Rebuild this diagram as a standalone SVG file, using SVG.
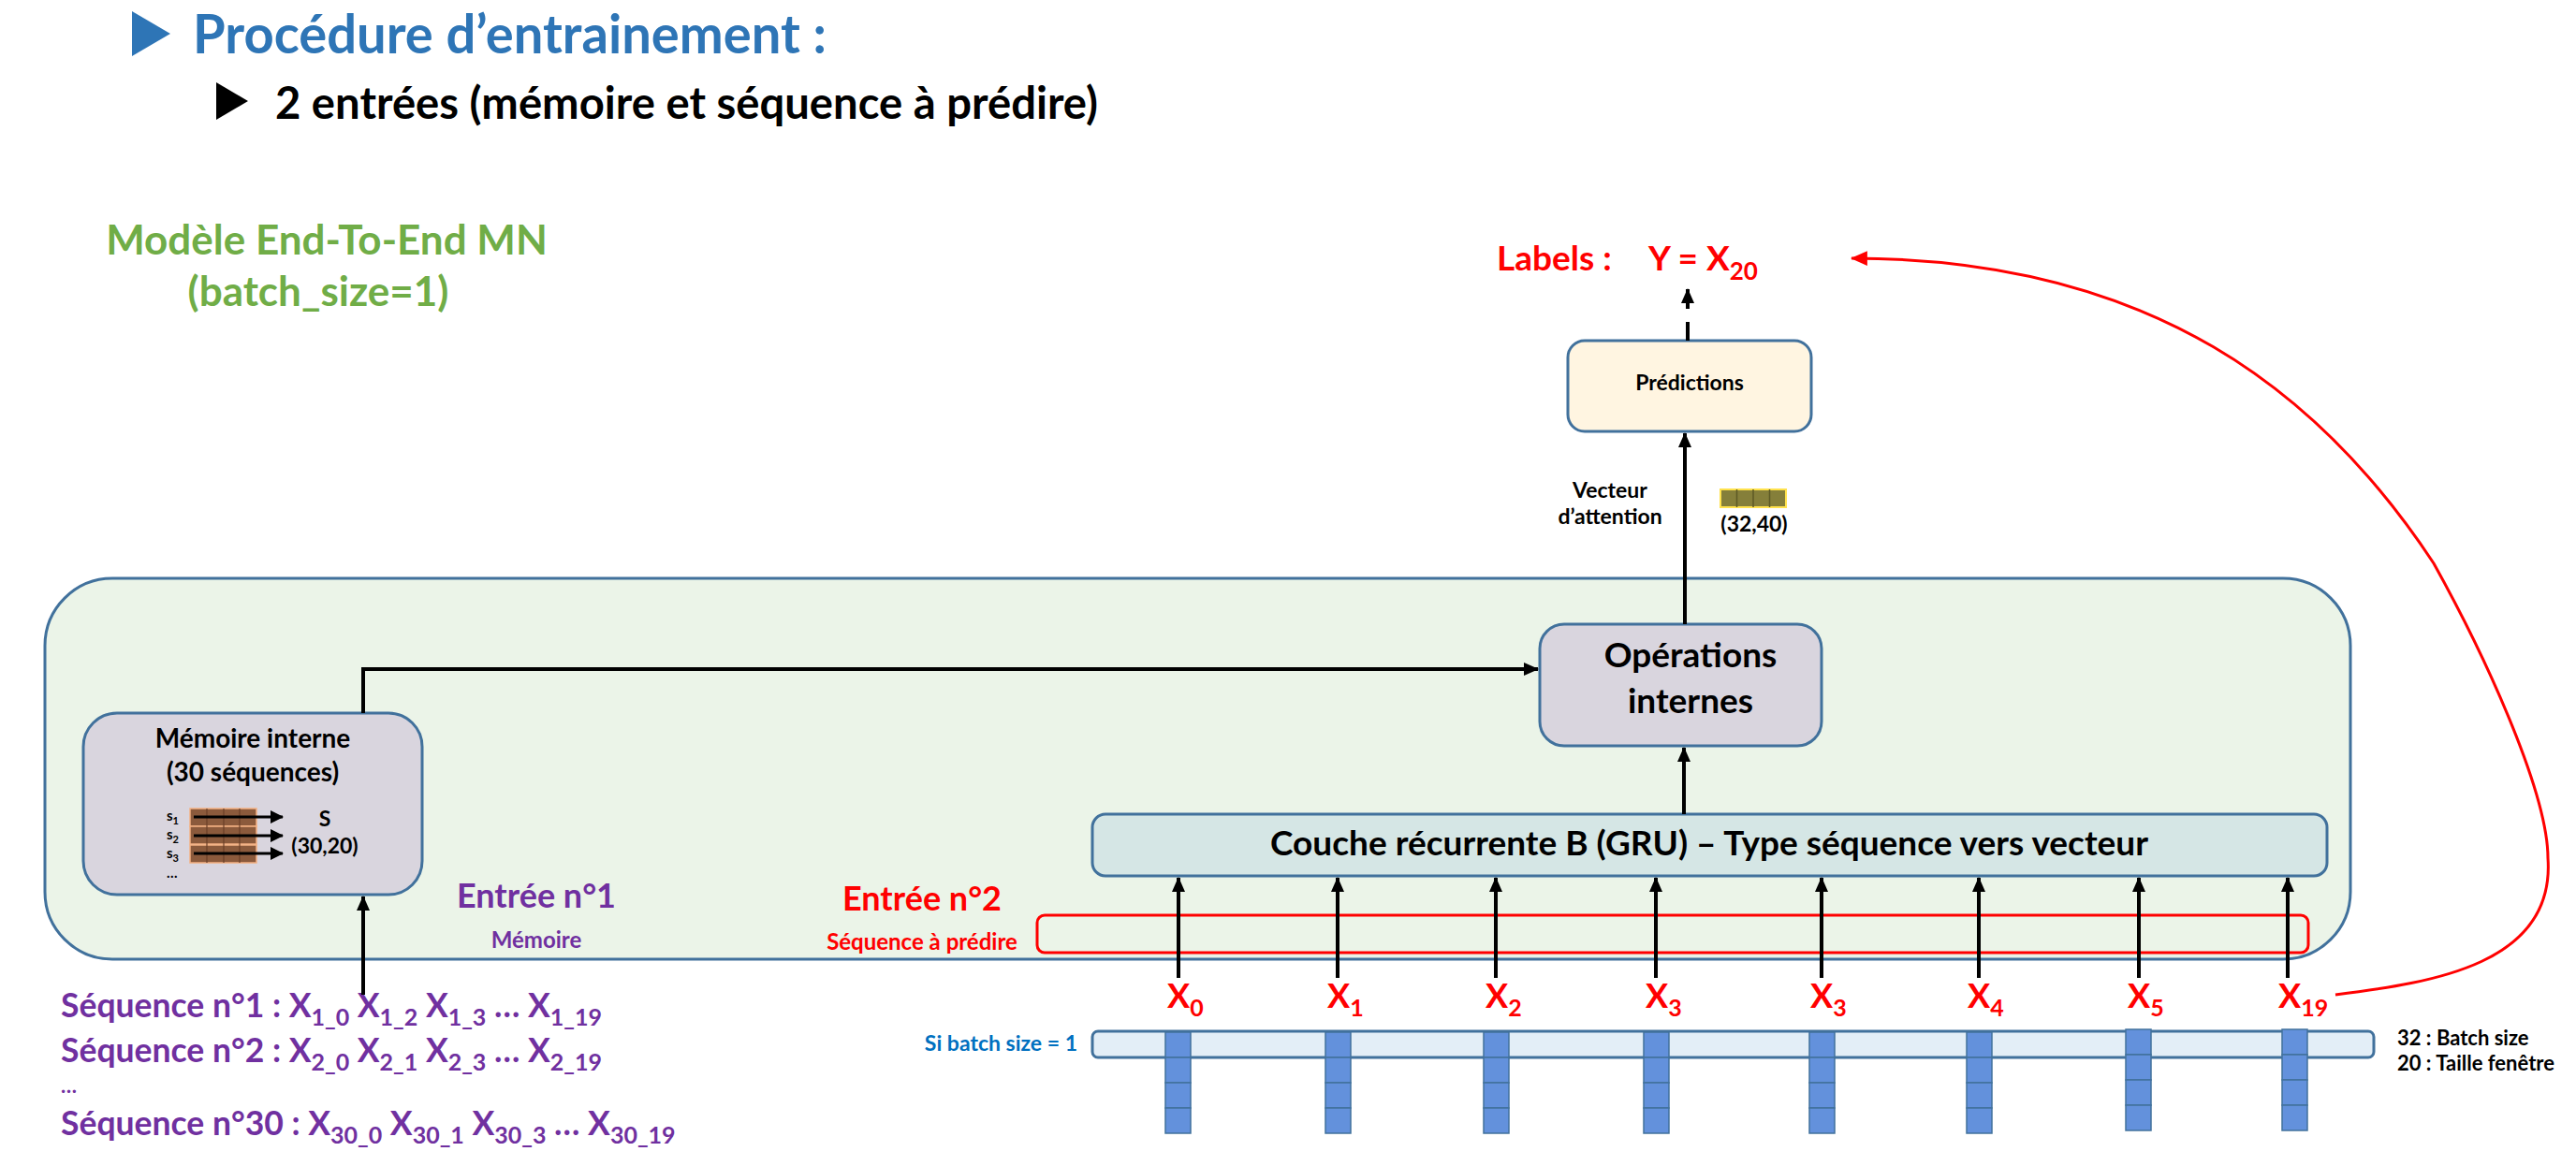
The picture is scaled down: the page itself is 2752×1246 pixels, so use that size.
<svg xmlns="http://www.w3.org/2000/svg" width="2752" height="1246" viewBox="0 0 2752 1246">
<style>
text{font-family:Lato,"Liberation Sans",sans-serif;font-weight:bold}
.node{stroke:#41719C;stroke-width:3}
.conn{stroke:#000;stroke-width:4;fill:none}
.purple{fill:#7030A0}
.red{fill:#FF0000}
.blk{fill:#000}
.cell{fill:#6391DC;stroke:#41719C;stroke-width:1.5}
.brown{fill:#8B5A3C;stroke:#F4B183;stroke-width:1.5}
.seq{font-size:35.5px}
.sub{font-size:25px}
</style>
<defs>
<marker id="ah" viewBox="0 0 16 14" refX="15" refY="7" markerWidth="16" markerHeight="14" markerUnits="userSpaceOnUse" orient="auto"><path d="M0,0 L16,7 L0,14 z" fill="#000"/></marker>
<marker id="ahs" viewBox="0 0 14 14" refX="13" refY="7" markerWidth="14" markerHeight="14" markerUnits="userSpaceOnUse" orient="auto"><path d="M0,0 L14,7 L0,14 z" fill="#000"/></marker>
<marker id="ahr" viewBox="0 0 16 14" refX="15" refY="7" markerWidth="18" markerHeight="16" markerUnits="userSpaceOnUse" orient="auto"><path d="M0,0 L16,7 L0,14 z" fill="#FF0000"/></marker>
</defs>
<rect width="2752" height="1246" fill="#fff"/>

<g id="title">
<path d="M141,12 L182,36 L141,60 z" fill="#2E75B6"/>
<text x="206" y="57" font-size="57" fill="#2E75B6" textLength="677" lengthAdjust="spacingAndGlyphs">Procédure d’entrainement :</text>
<path d="M231,88 L265,108 L231,128 z" fill="#000"/>
<text x="294" y="127" font-size="48" class="blk" textLength="879" lengthAdjust="spacingAndGlyphs">2 entrées (mémoire et séquence à prédire)</text>
</g>

<g id="model-title">
<text x="349" y="272" font-size="44" fill="#70AD47" text-anchor="middle">Modèle End-To-End MN</text>
<text x="340" y="327" font-size="44" fill="#70AD47" text-anchor="middle">(batch_size=1)</text>
</g>

<g id="container">
<rect x="48" y="618" width="2463" height="407" rx="72" ry="72" fill="#EBF4E8" class="node"/>
</g>

<g id="memoire-interne">
<rect x="89" y="762" width="362" height="194" rx="36" fill="#D9D5DE" class="node"/>
<text x="270" y="799" font-size="28" text-anchor="middle" class="blk">Mémoire interne</text>
<text x="270" y="835" font-size="28" text-anchor="middle" class="blk">(30 séquences)</text>
<g id="matrix">
<rect x="203" y="864" width="71" height="19" class="brown"/>
<rect x="203" y="883" width="71" height="19" class="brown"/>
<rect x="203" y="903" width="71" height="19" class="brown"/>
<path d="M221,864 V922 M239,864 V922 M256,864 V922" stroke="#6B4028" stroke-width="1.2"/>
<line x1="207" y1="873" x2="302" y2="873" stroke="#000" stroke-width="3" marker-end="url(#ahs)"/>
<line x1="207" y1="893" x2="302" y2="893" stroke="#000" stroke-width="3" marker-end="url(#ahs)"/>
<line x1="207" y1="912" x2="302" y2="912" stroke="#000" stroke-width="3" marker-end="url(#ahs)"/>
<text x="178" y="877" font-size="15" class="blk">s<tspan font-size="11" dy="4">1</tspan></text>
<text x="178" y="897" font-size="15" class="blk">s<tspan font-size="11" dy="4">2</tspan></text>
<text x="178" y="917" font-size="15" class="blk">s<tspan font-size="11" dy="4">3</tspan></text>
<text x="178" y="938" font-size="15" class="blk">…</text>
<text x="347" y="883" font-size="23" text-anchor="middle" class="blk">S</text>
<text x="347" y="912" font-size="23" text-anchor="middle" class="blk">(30,20)</text>
</g>
</g>

<g id="operations-internes">
<rect x="1645" y="667" width="301" height="130" rx="26" fill="#D9D5DE" class="node"/>
<text x="1806" y="713" font-size="37" text-anchor="middle" class="blk">Opérations</text>
<text x="1806" y="762" font-size="37" text-anchor="middle" class="blk">internes</text>
</g>

<g id="couche-recurrente">
<rect x="1167" y="870" width="1319" height="66" rx="14" fill="#D5E6E5" class="node"/>
<text x="1826" y="914" font-size="37" text-anchor="middle" class="blk">Couche récurrente B (GRU) – Type séquence vers vecteur</text>
</g>

<g id="predictions">
<rect x="1675" y="364" width="260" height="97" rx="18" fill="#FFF5E1" class="node"/>
<text x="1805" y="417" font-size="23" text-anchor="middle" class="blk">Prédictions</text>
</g>

<g id="labels">
<text x="1599" y="289" font-size="37" class="red">Labels :</text>
<text x="1761" y="289" font-size="37" class="red">Y = X<tspan font-size="26" dy="10">20</tspan></text>
</g>

<g id="attention">
<text x="1720" y="532" font-size="23" text-anchor="middle" class="blk">Vecteur</text>
<text x="1720" y="560" font-size="23" text-anchor="middle" class="blk">d’attention</text>
<rect x="1838" y="523" width="70" height="19" fill="#857F3A" stroke="#FFE24C" stroke-width="2"/>
<path d="M1855.5,523 V542 M1873,523 V542 M1890.5,523 V542" stroke="#5E5A26" stroke-width="1.5"/>
<text x="1874" y="568" font-size="23" text-anchor="middle" class="blk">(32,40)</text>
</g>

<g id="entree1">
<text x="573" y="970" font-size="36" text-anchor="middle" class="purple">Entrée n°1</text>
<text x="573" y="1013" font-size="24" text-anchor="middle" class="purple">Mémoire</text>
</g>

<g id="entree2">
<text x="985" y="973" font-size="36" text-anchor="middle" class="red">Entrée n°2</text>
<text x="985" y="1015" font-size="24" text-anchor="middle" class="red">Séquence à prédire</text>
<rect x="1108" y="978" width="1358" height="40" rx="8" fill="none" stroke="#FF0000" stroke-width="3"/>
</g>

<g id="sequences">
<text x="65" y="1087" class="purple seq">Séquence n°1 : X<tspan class="sub" dy="9">1_0</tspan><tspan dy="-9"> X</tspan><tspan class="sub" dy="9">1_2</tspan><tspan dy="-9"> X</tspan><tspan class="sub" dy="9">1_3</tspan><tspan dy="-9"> … X</tspan><tspan class="sub" dy="9">1_19</tspan></text>
<text x="65" y="1135" class="purple seq">Séquence n°2 : X<tspan class="sub" dy="9">2_0</tspan><tspan dy="-9"> X</tspan><tspan class="sub" dy="9">2_1</tspan><tspan dy="-9"> X</tspan><tspan class="sub" dy="9">2_3</tspan><tspan dy="-9"> … X</tspan><tspan class="sub" dy="9">2_19</tspan></text>
<text x="65" y="1168" font-size="22" class="purple">…</text>
<text x="65" y="1213" class="purple seq">Séquence n°30 : X<tspan class="sub" dy="9">30_0</tspan><tspan dy="-9"> X</tspan><tspan class="sub" dy="9">30_1</tspan><tspan dy="-9"> X</tspan><tspan class="sub" dy="9">30_3</tspan><tspan dy="-9"> … X</tspan><tspan class="sub" dy="9">30_19</tspan></text>
</g>

<g id="x-labels">
<text x="1247" y="1077" font-size="36" class="red">X<tspan font-size="25" dy="9">0</tspan></text>
<text x="1418" y="1077" font-size="36" class="red">X<tspan font-size="25" dy="9">1</tspan></text>
<text x="1587" y="1077" font-size="36" class="red">X<tspan font-size="25" dy="9">2</tspan></text>
<text x="1758" y="1077" font-size="36" class="red">X<tspan font-size="25" dy="9">3</tspan></text>
<text x="1934" y="1077" font-size="36" class="red">X<tspan font-size="25" dy="9">3</tspan></text>
<text x="2102" y="1077" font-size="36" class="red">X<tspan font-size="25" dy="9">4</tspan></text>
<text x="2273" y="1077" font-size="36" class="red">X<tspan font-size="25" dy="9">5</tspan></text>
<text x="2434" y="1077" font-size="36" class="red">X<tspan font-size="25" dy="9">19</tspan></text>
</g>

<g id="batch">
<text x="1151" y="1123" font-size="23" text-anchor="end" fill="#0070C0">Si batch size = 1</text>
<rect x="1167" y="1102" width="1369" height="28" rx="6" fill="#E3EEF7" class="node" stroke-width="2.5"/>
<g id="columns">
<rect x="1245" y="1103" width="27" height="27" class="cell"/><rect x="1245" y="1130" width="27" height="27" class="cell"/><rect x="1245" y="1157" width="27" height="27" class="cell"/><rect x="1245" y="1184" width="27" height="27" class="cell"/>
<rect x="1416" y="1103" width="27" height="27" class="cell"/><rect x="1416" y="1130" width="27" height="27" class="cell"/><rect x="1416" y="1157" width="27" height="27" class="cell"/><rect x="1416" y="1184" width="27" height="27" class="cell"/>
<rect x="1585" y="1103" width="27" height="27" class="cell"/><rect x="1585" y="1130" width="27" height="27" class="cell"/><rect x="1585" y="1157" width="27" height="27" class="cell"/><rect x="1585" y="1184" width="27" height="27" class="cell"/>
<rect x="1756" y="1103" width="27" height="27" class="cell"/><rect x="1756" y="1130" width="27" height="27" class="cell"/><rect x="1756" y="1157" width="27" height="27" class="cell"/><rect x="1756" y="1184" width="27" height="27" class="cell"/>
<rect x="1933" y="1103" width="27" height="27" class="cell"/><rect x="1933" y="1130" width="27" height="27" class="cell"/><rect x="1933" y="1157" width="27" height="27" class="cell"/><rect x="1933" y="1184" width="27" height="27" class="cell"/>
<rect x="2101" y="1103" width="27" height="27" class="cell"/><rect x="2101" y="1130" width="27" height="27" class="cell"/><rect x="2101" y="1157" width="27" height="27" class="cell"/><rect x="2101" y="1184" width="27" height="27" class="cell"/>
<rect x="2271" y="1100" width="27" height="27" class="cell"/><rect x="2271" y="1127" width="27" height="27" class="cell"/><rect x="2271" y="1154" width="27" height="27" class="cell"/><rect x="2271" y="1181" width="27" height="27" class="cell"/>
<rect x="2438" y="1100" width="27" height="27" class="cell"/><rect x="2438" y="1127" width="27" height="27" class="cell"/><rect x="2438" y="1154" width="27" height="27" class="cell"/><rect x="2438" y="1181" width="27" height="27" class="cell"/>
</g>
<text x="2561" y="1117" font-size="22" class="blk">32 : Batch size</text>
<text x="2561" y="1144" font-size="22" class="blk">20 : Taille fenêtre</text>
</g>

<g id="connectors">
<line x1="388" y1="1063" x2="388" y2="958" class="conn" marker-end="url(#ah)"/>
<polyline points="388,762 388,715 1643,715" class="conn" marker-end="url(#ah)"/>
<line x1="1799" y1="870" x2="1799" y2="799" class="conn" marker-end="url(#ah)"/>
<line x1="1800" y1="667" x2="1800" y2="463" class="conn" marker-end="url(#ah)"/>
<line x1="1803" y1="364" x2="1803" y2="344" class="conn"/>
<line x1="1803" y1="330" x2="1803" y2="309" class="conn" marker-end="url(#ah)"/>
<line x1="1259" y1="1045" x2="1259" y2="938" class="conn" marker-end="url(#ah)"/>
<line x1="1429" y1="1045" x2="1429" y2="938" class="conn" marker-end="url(#ah)"/>
<line x1="1598" y1="1045" x2="1598" y2="938" class="conn" marker-end="url(#ah)"/>
<line x1="1769" y1="1045" x2="1769" y2="938" class="conn" marker-end="url(#ah)"/>
<line x1="1946" y1="1045" x2="1946" y2="938" class="conn" marker-end="url(#ah)"/>
<line x1="2114" y1="1045" x2="2114" y2="938" class="conn" marker-end="url(#ah)"/>
<line x1="2285" y1="1045" x2="2285" y2="938" class="conn" marker-end="url(#ah)"/>
<line x1="2444" y1="1045" x2="2444" y2="938" class="conn" marker-end="url(#ah)"/>
<path d="M2495,1063 C2600,1050 2730,1030 2722,917 C2722,850 2660,710 2600,602 C2480,420 2300,276 1978,276" fill="none" stroke="#FF0000" stroke-width="3" marker-end="url(#ahr)"/>
</g>
</svg>
